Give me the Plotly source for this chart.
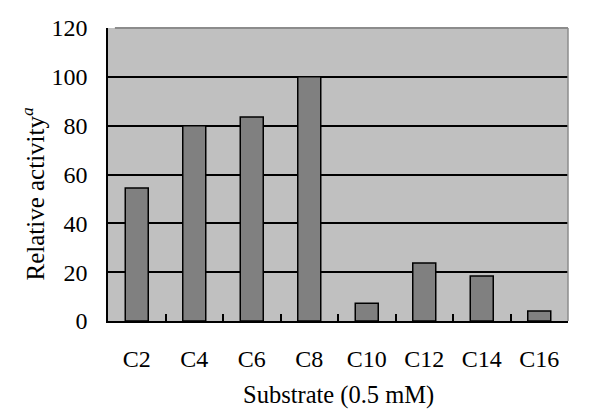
import plotly.graph_objects as go

substrates = ["C2", "C4", "C6", "C8", "C10", "C12", "C14", "C16"]
activity = [54.5, 80, 83.5, 100, 7.3, 23.8, 18.4, 4.1]
y_ticks = [0, 20, 40, 60, 80, 100, 120]

FONT = "Liberation Serif, Times New Roman, serif"
TICKFONT = dict(family=FONT, size=24, color="black")

fig = go.Figure()

fig.add_trace(
    go.Bar(
        x=substrates,
        y=activity,
        width=0.4,
        marker=dict(color="#808080", line=dict(color="black", width=1.5)),
        showlegend=False,
    )
)

# gray frame on top and right, over the top gridline
fig.add_shape(
    type="line", xref="paper", yref="paper", x0=0.015, y0=1, x1=1, y1=1,
    line=dict(color="#8c8c8c", width=2), layer="above",
)
fig.add_shape(
    type="line", xref="paper", yref="paper", x0=1, y0=0, x1=1, y1=1,
    line=dict(color="#8c8c8c", width=1.5), layer="above",
)

# axis titles placed as annotations for exact position
fig.add_annotation(
    text="Substrate (0.5 mM)", xref="paper", yref="paper", x=0.5, y=0,
    xanchor="center", yanchor="top", yshift=-58, showarrow=False,
    font=dict(family=FONT, size=24.5, color="black"),
)
fig.add_annotation(
    text="Relative activity<sup><i>a</i></sup>", xref="paper", yref="paper",
    x=0, y=0.435, xanchor="center", yanchor="middle", xshift=-75,
    textangle=-90, showarrow=False,
    font=dict(family=FONT, size=25, color="black"),
)

fig.update_layout(
    width=592,
    height=407,
    margin=dict(l=100, r=32, t=20, b=94),
    paper_bgcolor="white",
    plot_bgcolor="#c0c0c0",
    font=dict(family=FONT, size=24, color="black"),
    xaxis=dict(
        tickfont=TICKFONT,
        automargin=False,
        showline=True, linecolor="black", linewidth=1.5,
        ticks="inside", ticklen=7, tickcolor="black", tickwidth=1.5,
        tickson="boundaries", ticklabelstandoff=15,
        showgrid=False,
    ),
    yaxis=dict(
        tickfont=TICKFONT,
        automargin=False,
        range=[0, 120],
        tickvals=y_ticks,
        showline=True, linecolor="black", linewidth=1.5,
        ticks="inside", ticklen=6, tickcolor="black",
        showgrid=True, gridcolor="black", gridwidth=1.5,
        ticklabelstandoff=14,
        zeroline=False,
    ),
)

fig.write_html("out.html")
